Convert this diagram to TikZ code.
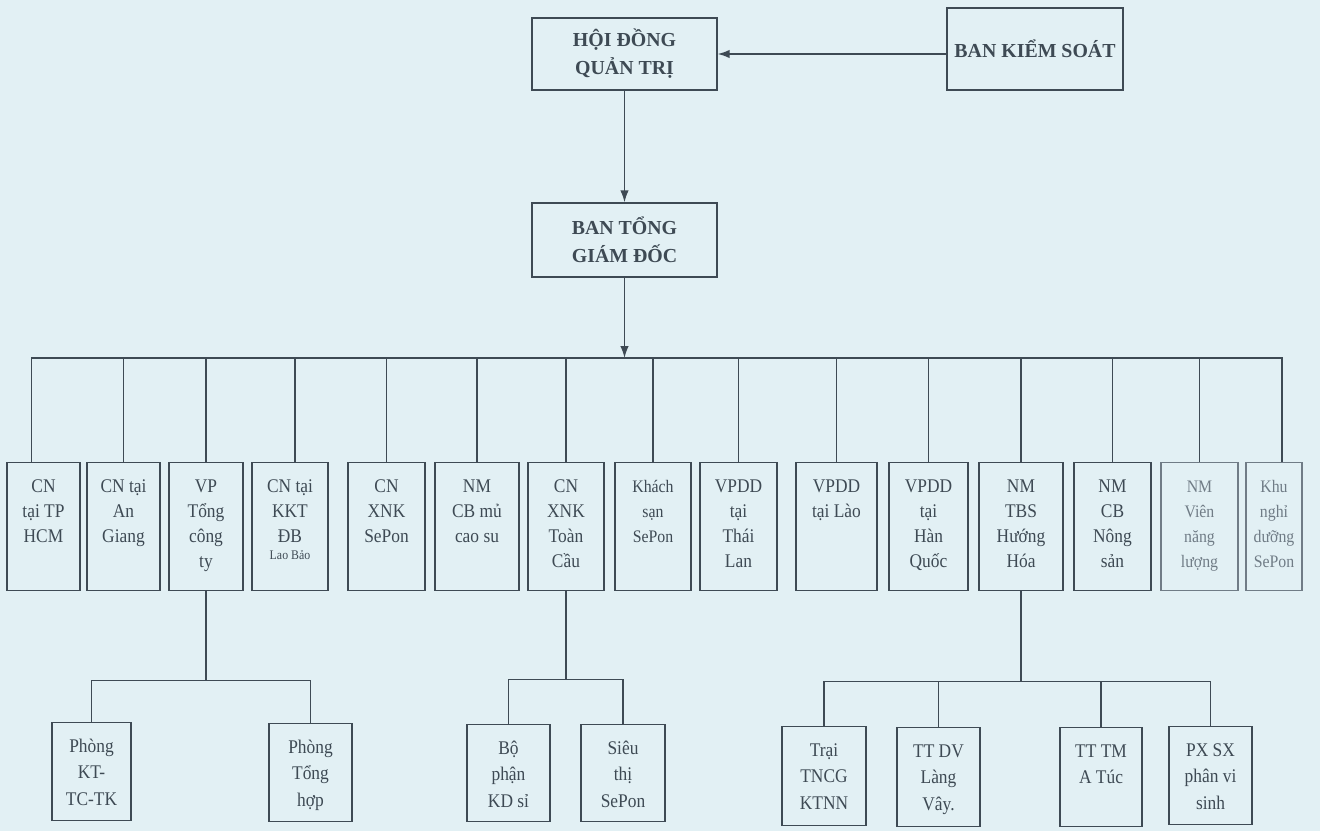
\documentclass[tikz,border=0pt]{standalone}
\usepackage{fontspec}
\setmainfont{Liberation Serif}
\newfontfamily\narrowserif[FakeStretch=0.9]{Liberation Serif}
\usetikzlibrary{arrows.meta}

\definecolor{paper}{RGB}{226,240,244}
\definecolor{ink}{RGB}{62,74,84}
\definecolor{inkfaint}{RGB}{112,124,134}

% one pixel of the scanned chart
\newlength{\pxlen}
\setlength{\pxlen}{0.02cm}
% top-aligned text inside a box of given width and height (in pixels)
\newcommand{\cell}[3]{\parbox[c][#2\pxlen][t]{#1\pxlen}{\centering\rule{0pt}{17pt}#3}}

\begin{document}
\begin{tikzpicture}[
    x=0.02cm, y=-0.02cm,
    line/.style={draw=ink, line width=0.8pt},
    arrow/.style={line, -{Latex[length=2.4mm,width=1.7mm]}},
    head/.style={line, rectangle, align=center, inner sep=0pt, text=ink, font=\fontsize{11.3}{16}\selectfont\bfseries},
    unit/.style={line, rectangle, inner sep=0pt, anchor=north, text=ink, font=\narrowserif\fontsize{11}{14.2}\selectfont},
    small/.style={font=\narrowserif\fontsize{10}{14.2}\selectfont},
    faint/.style={draw=inkfaint, text=inkfaint},
    dept/.style={unit, font=\narrowserif\fontsize{11}{15}\selectfont}
]
\fill[paper] (0,0) rectangle (1320,831);

% Board, supervisors, management
\node[head, minimum width=3.7cm, minimum height=1.44cm] (hdqt) at (624.5,54) {HỘI ĐỒNG\\QUẢN TRỊ};
\node[head, minimum width=3.52cm, minimum height=1.64cm] (bks) at (1035,49) {BAN KIỂM SOÁT};
\node[head, minimum width=3.7cm, minimum height=1.48cm] (btgd) at (624.5,240) {BAN TỔNG\\GIÁM ĐỐC};
\coordinate (bus) at (624.5,358);

% Units
\node[unit] (b1) at (43.5,462) {\cell{73}{128}{CN\\tại TP\\HCM}};
\node[unit] (b2) at (123.5,462) {\cell{73}{128}{CN tại\\An\\Giang}};
\node[unit] (b3) at (206,462) {\cell{74}{128}{VP\\Tổng\\công\\ty}};
\node[unit] (b4) at (290,462) {\cell{76}{128}{CN tại\\KKT\\ĐB\\[-4.6pt]{\fontsize{7.5}{9}\selectfont Lao Bảo}}};
\node[unit] (b5) at (386.5,462) {\cell{77}{128}{CN\\XNK\\SePon}};
\node[unit] (b6) at (477,462) {\cell{84}{128}{NM\\CB mủ\\cao su}};
\node[unit] (b7) at (566,462) {\cell{76}{128}{CN\\XNK\\Toàn\\Cầu}};
\node[unit, small] (b8) at (653,462) {\cell{76}{128}{Khách\\sạn\\SePon}};
\node[unit] (b9) at (738.5,462) {\cell{77}{128}{VPDD\\tại\\Thái\\Lan}};
\node[unit] (b10) at (836.5,462) {\cell{81}{128}{VPDD\\tại Lào}};
\node[unit] (b11) at (928.5,462) {\cell{79}{128}{VPDD\\tại\\Hàn\\Quốc}};
\node[unit] (b12) at (1021,462) {\cell{84}{128}{NM\\TBS\\Hướng\\Hóa}};
\node[unit] (b13) at (1112.5,462) {\cell{77}{128}{NM\\CB\\Nông\\sản}};
\node[unit, small, faint] (b14) at (1199.5,462) {\cell{77}{128}{NM\\Viên\\năng\\lượng}};
\node[unit, small, faint] (b15) at (1274,462) {\cell{56}{128}{Khu\\nghỉ\\dưỡng\\SePon}};

% Departments
\node[dept] (kt) at (91.5,722) {\cell{79}{98}{Phòng\\KT-\\TC-TK}};
\node[dept] (th) at (310.5,723) {\cell{83}{98}{Phòng\\Tổng\\hợp}};
\node[dept] (bp) at (508.5,724) {\cell{83}{97}{Bộ\\phận\\KD sỉ}};
\node[dept] (st) at (623,724) {\cell{84}{97}{Siêu\\thị\\SePon}};
\node[dept] (trai) at (824,726) {\cell{84}{99}{Trại\\TNCG\\KTNN}};
\node[dept] (ttdv) at (938.5,727) {\cell{83}{99}{TT DV\\Làng\\Vây.}};
\node[dept] (tttm) at (1101,727) {\cell{82}{99}{TT TM\\A Túc}};
\node[dept] (pxsx) at (1210.5,726) {\cell{83}{98}{PX SX\\phân vi\\sinh}};

% Arrows
\draw[arrow] (hdqt.east -| bks.west) -- (hdqt.east);
\draw[arrow] (hdqt) -- (btgd);
\draw[arrow] (btgd) -- (bus);

% Bus to units
\draw[line] ([xshift=-0.24cm]b1.north) |- (bus);
\draw[line] (b2.north) |- (bus);
\draw[line] (b3.north) |- (bus);
\draw[line] ([xshift=0.1cm]b4.north) |- (bus);
\draw[line] (b5.north) |- (bus);
\draw[line] (b6.north) |- (bus);
\draw[line] (b7.north) |- (bus);
\draw[line] (b8.north) |- (bus);
\draw[line] (b9.north) |- (bus);
\draw[line] (b10.north) |- (bus);
\draw[line] (b11.north) |- (bus);
\draw[line] (b12.north) |- (bus);
\draw[line] (b13.north) |- (bus);
\draw[line] (b14.north) |- (bus);
\draw[line] ([xshift=0.16cm]b15.north) |- (bus);

% Units to departments
\draw[line] (b3.south) -- ++(0,89) -| (kt.north);
\draw[line] (b3.south) -- ++(0,89) -| (th.north);
\draw[line] (b7.south) -- ++(0,88) -| (bp.north);
\draw[line] (b7.south) -- ++(0,88) -| (st.north);
\draw[line] (b12.south) -- ++(0,90) -| (trai.north);
\draw[line] (b12.south) -- ++(0,90) -| (ttdv.north);
\draw[line] (b12.south) -- ++(0,90) -| (tttm.north);
\draw[line] (b12.south) -- ++(0,90) -| (pxsx.north);

\end{tikzpicture}
\end{document}
